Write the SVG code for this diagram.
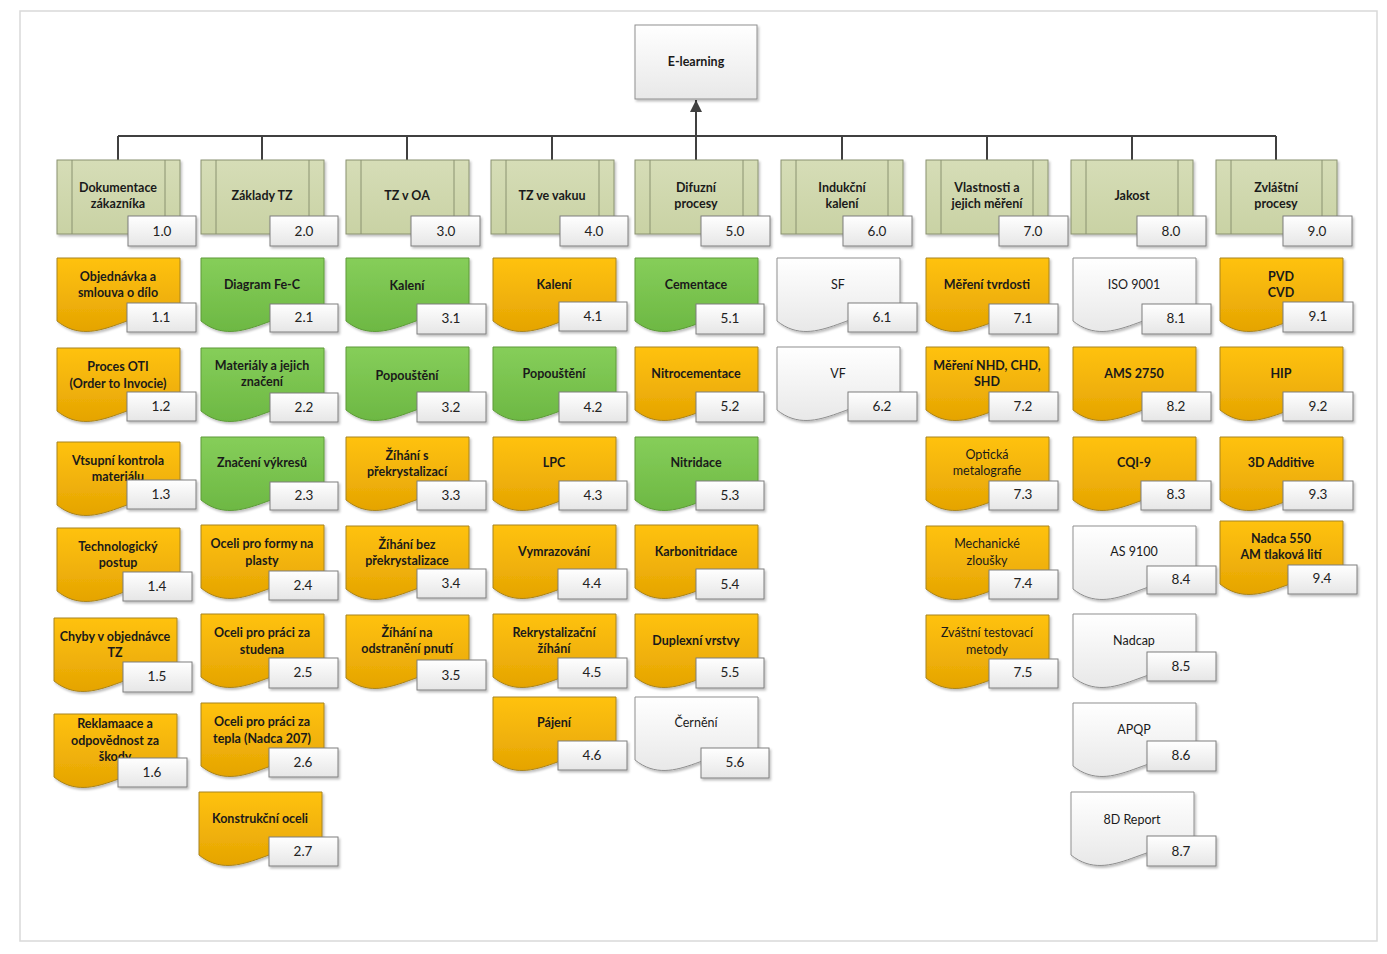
<svg xmlns="http://www.w3.org/2000/svg" xmlns:xlink="http://www.w3.org/1999/xlink" width="1387" height="954" viewBox="0 0 1387 954">
<style>
.or{fill:url(#gOr);stroke:#A8841E;stroke-width:1}
.gr{fill:url(#gGr);stroke:#5E9A3A;stroke-width:1}
.wh{fill:url(#gWh);stroke:#8F8F8F;stroke-width:1}
.hd{fill:url(#gHd);stroke:#8A9270;stroke-width:1}
.hl{stroke:#8A9270;stroke-width:1;fill:none}
.nb{fill:url(#gNb);stroke:#7F7F7F;stroke-width:1;filter:url(#sh)}
.sd{filter:url(#sh)}
text{font-family:Lato,"Open Sans","Liberation Sans",sans-serif;font-size:12.5px;text-anchor:middle;fill:#1A1A1A}
.b{font-weight:bold}
.n{font-size:13.5px;fill:#222}
.cn{stroke:#404040;stroke-width:2;fill:none}
</style>
<defs>
<linearGradient id="gOr" x1="0" y1="0" x2="0" y2="1"><stop offset="0" stop-color="#FFC20F"/><stop offset="1" stop-color="#E5A403"/></linearGradient>
<linearGradient id="gGr" x1="0" y1="0" x2="0" y2="1"><stop offset="0" stop-color="#86CE5A"/><stop offset="1" stop-color="#6DB843"/></linearGradient>
<linearGradient id="gWh" x1="0" y1="0" x2="0" y2="1"><stop offset="0" stop-color="#FFFFFF"/><stop offset="1" stop-color="#E8E8E8"/></linearGradient>
<linearGradient id="gHd" x1="0" y1="0" x2="0" y2="1"><stop offset="0" stop-color="#D6DDB7"/><stop offset="1" stop-color="#C9D2A4"/></linearGradient>
<linearGradient id="gNb" x1="0" y1="0" x2="0" y2="1"><stop offset="0" stop-color="#FFFFFF"/><stop offset="1" stop-color="#E6E6E6"/></linearGradient>
<filter id="sh" x="-10%" y="-10%" width="130%" height="140%"><feDropShadow dx="1.5" dy="2" stdDeviation="1.2" flood-color="#000" flood-opacity="0.25"/></filter>
<path id="doc" d="M0,0 H123 V58 C80,42 40,95 0,63 Z"/>
<marker id="arr" markerWidth="12" markerHeight="12" refX="12" refY="6" orient="auto" markerUnits="userSpaceOnUse" viewBox="0 0 12 12"><path d="M0,0 L12,6 L0,12 Z" fill="#404040"/></marker>
</defs>
<rect x="0" y="0" width="1387" height="954" fill="#FFFFFF"/>
<rect x="20" y="11" width="1357" height="930" fill="#FFFFFF" stroke="#D9D9D9" stroke-width="1.5"/>

<g id="connectors">
<path class="cn" d="M118,136 H1276"/>
<path class="cn" d="M118,136 V160 M262,136 V160 M407,136 V160 M552,136 V160 M842,136 V160 M987,136 V160 M1132,136 V160 M1276,136 V160"/>
<path class="cn" d="M696,160 V100" marker-end="url(#arr)"/>
</g>

<g id="n0">
<rect x="635" y="25" width="122" height="74" fill="url(#gWh)" stroke="#8F8F8F" class="sd"/>
<text class="b" x="696" y="66">E-learning</text>
</g>

<!-- headers -->
<g id="h1"><rect class="hd sd" x="57" y="160" width="123" height="74"/><path class="hl" d="M72,160V234M165,160V234"/><text class="b" x="118" y="192">Dokumentace</text><text class="b" x="118" y="208">zákazníka</text><rect class="nb" x="128" y="216" width="68" height="30"/><text class="n" x="162" y="236">1.0</text></g>
<g id="h2"><rect class="hd sd" x="201" y="160" width="123" height="74"/><path class="hl" d="M216,160V234M309,160V234"/><text class="b" x="262" y="200">Základy TZ</text><rect class="nb" x="270" y="216" width="68" height="30"/><text class="n" x="304" y="236">2.0</text></g>
<g id="h3"><rect class="hd sd" x="346" y="160" width="123" height="74"/><path class="hl" d="M361,160V234M454,160V234"/><text class="b" x="407" y="200">TZ v OA</text><rect class="nb" x="411" y="216" width="69" height="30"/><text class="n" x="446" y="236">3.0</text></g>
<g id="h4"><rect class="hd sd" x="491" y="160" width="123" height="74"/><path class="hl" d="M506,160V234M599,160V234"/><text class="b" x="552" y="200">TZ ve vakuu</text><rect class="nb" x="560" y="216" width="68" height="30"/><text class="n" x="594" y="236">4.0</text></g>
<g id="h5"><rect class="hd sd" x="635" y="160" width="123" height="74"/><path class="hl" d="M650,160V234M743,160V234"/><text class="b" x="696" y="192">Difuzní</text><text class="b" x="696" y="208">procesy</text><rect class="nb" x="701" y="216" width="69" height="30"/><text class="n" x="735" y="236">5.0</text></g>
<g id="h6"><rect class="hd sd" x="781" y="160" width="122" height="74"/><path class="hl" d="M796,160V234M888,160V234"/><text class="b" x="842" y="192">Indukční</text><text class="b" x="842" y="208">kalení</text><rect class="nb" x="843" y="216" width="69" height="30"/><text class="n" x="877" y="236">6.0</text></g>
<g id="h7"><rect class="hd sd" x="926" y="160" width="122" height="74"/><path class="hl" d="M941,160V234M1033,160V234"/><text class="b" x="987" y="192">Vlastnosti a</text><text class="b" x="987" y="208">jejich měření</text><rect class="nb" x="999" y="216" width="69" height="30"/><text class="n" x="1033" y="236">7.0</text></g>
<g id="h8"><rect class="hd sd" x="1071" y="160" width="122" height="74"/><path class="hl" d="M1086,160V234M1178,160V234"/><text class="b" x="1132" y="200">Jakost</text><rect class="nb" x="1137" y="216" width="69" height="30"/><text class="n" x="1171" y="236">8.0</text></g>
<g id="h9"><rect class="hd sd" x="1216" y="160" width="121" height="74"/><path class="hl" d="M1231,160V234M1322,160V234"/><text class="b" x="1276" y="192">Zvláštní</text><text class="b" x="1276" y="208">procesy</text><rect class="nb" x="1283" y="216" width="69" height="30"/><text class="n" x="1317" y="236">9.0</text></g>

<!-- column 1 -->
<g id="n1-1"><use href="#doc" x="57" y="258" class="or sd"/><text class="b" x="118" y="281">Objednávka a</text><text class="b" x="118" y="297">smlouva o dílo</text><rect class="nb" x="127" y="303" width="69" height="29"/><text class="n" x="161" y="322">1.1</text></g>
<g id="n1-2"><use href="#doc" x="57" y="348" class="or sd"/><text class="b" x="118" y="371">Proces OTI</text><text class="b" x="118" y="388">(Order to Invocie)</text><rect class="nb" x="127" y="392" width="69" height="29"/><text class="n" x="161" y="411">1.2</text></g>
<g id="n1-3"><use href="#doc" x="57" y="442" class="or sd"/><text class="b" x="118" y="465">Vtsupní kontrola</text><text class="b" x="118" y="481">materiálu</text><rect class="nb" x="127" y="480" width="69" height="29"/><text class="n" x="161" y="499">1.3</text></g>
<g id="n1-4"><use href="#doc" x="57" y="528" class="or sd"/><text class="b" x="118" y="551">Technologický</text><text class="b" x="118" y="567">postup</text><rect class="nb" x="123" y="572" width="69" height="29"/><text class="n" x="157" y="591">1.4</text></g>
<g id="n1-5"><use href="#doc" x="54" y="618" class="or sd"/><text class="b" x="115" y="641">Chyby v objednávce</text><text class="b" x="115" y="657">TZ</text><rect class="nb" x="123" y="662" width="69" height="30"/><text class="n" x="157" y="681">1.5</text></g>
<g id="n1-6"><use href="#doc" x="54" y="714" class="or sd"/><text class="b" x="115" y="728">Reklamaace a</text><text class="b" x="115" y="745">odpovědnost za</text><text class="b" x="115" y="761">škody</text><rect class="nb" x="118" y="758" width="69" height="29"/><text class="n" x="152" y="777">1.6</text></g>

<!-- column 2 -->
<g id="n2-1"><use href="#doc" x="201" y="258" class="gr sd"/><text class="b" x="262" y="289">Diagram Fe-C</text><rect class="nb" x="270" y="304" width="68" height="28"/><text class="n" x="304" y="322">2.1</text></g>
<g id="n2-2"><use href="#doc" x="201" y="348" class="gr sd"/><text class="b" x="262" y="370">Materiály a jejich</text><text class="b" x="262" y="386">značení</text><rect class="nb" x="270" y="393" width="68" height="29"/><text class="n" x="304" y="412">2.2</text></g>
<g id="n2-3"><use href="#doc" x="201" y="437" class="gr sd"/><text class="b" x="262" y="467">Značení výkresů</text><rect class="nb" x="270" y="482" width="68" height="28"/><text class="n" x="304" y="500">2.3</text></g>
<g id="n2-4"><use href="#doc" x="201" y="525" class="or sd"/><text class="b" x="262" y="548">Oceli pro formy na</text><text class="b" x="262" y="565">plasty</text><rect class="nb" x="269" y="571" width="69" height="29"/><text class="n" x="303" y="590">2.4</text></g>
<g id="n2-5"><use href="#doc" x="201" y="614" class="or sd"/><text class="b" x="262" y="637">Oceli pro práci za</text><text class="b" x="262" y="654">studena</text><rect class="nb" x="269" y="658" width="69" height="30"/><text class="n" x="303" y="677">2.5</text></g>
<g id="n2-6"><use href="#doc" x="201" y="703" class="or sd"/><text class="b" x="262" y="726">Oceli pro práci za</text><text class="b" x="262" y="743">tepla (Nadca 207)</text><rect class="nb" x="269" y="748" width="69" height="29"/><text class="n" x="303" y="767">2.6</text></g>
<g id="n2-7"><use href="#doc" x="199" y="792" class="or sd"/><text class="b" x="260" y="823">Konstrukční oceli</text><rect class="nb" x="269" y="837" width="69" height="29"/><text class="n" x="303" y="856">2.7</text></g>

<!-- column 3 -->
<g id="n3-1"><use href="#doc" x="346" y="258" class="gr sd"/><text class="b" x="407" y="290">Kalení</text><rect class="nb" x="417" y="304" width="69" height="30"/><text class="n" x="451" y="323">3.1</text></g>
<g id="n3-2"><use href="#doc" x="346" y="347" class="gr sd"/><text class="b" x="407" y="380">Popouštění</text><rect class="nb" x="417" y="392" width="69" height="30"/><text class="n" x="451" y="412">3.2</text></g>
<g id="n3-3"><use href="#doc" x="346" y="437" class="or sd"/><text class="b" x="407" y="460">Žíhání s</text><text class="b" x="407" y="476">překrystalizací</text><rect class="nb" x="417" y="481" width="69" height="29"/><text class="n" x="451" y="500">3.3</text></g>
<g id="n3-4"><use href="#doc" x="346" y="526" class="or sd"/><text class="b" x="407" y="549">Žíhání bez</text><text class="b" x="407" y="565">překrystalizace</text><rect class="nb" x="417" y="569" width="69" height="29"/><text class="n" x="451" y="588">3.4</text></g>
<g id="n3-5"><use href="#doc" x="346" y="615" class="or sd"/><text class="b" x="407" y="637">Žíhání na</text><text class="b" x="407" y="653">odstranění pnutí</text><rect class="nb" x="417" y="660" width="69" height="30"/><text class="n" x="451" y="680">3.5</text></g>

<!-- column 4 -->
<g id="n4-1"><use href="#doc" x="493" y="258" class="or sd"/><text class="b" x="554" y="289">Kalení</text><rect class="nb" x="559" y="302" width="68" height="29"/><text class="n" x="593" y="321">4.1</text></g>
<g id="n4-2"><use href="#doc" x="493" y="347" class="gr sd"/><text class="b" x="554" y="378">Popouštění</text><rect class="nb" x="559" y="392" width="68" height="30"/><text class="n" x="593" y="412">4.2</text></g>
<g id="n4-3"><use href="#doc" x="493" y="437" class="or sd"/><text class="b" x="554" y="467">LPC</text><rect class="nb" x="559" y="481" width="68" height="29"/><text class="n" x="593" y="500">4.3</text></g>
<g id="n4-4"><use href="#doc" x="493" y="525" class="or sd"/><text class="b" x="554" y="556">Vymrazování</text><rect class="nb" x="558" y="569" width="69" height="30"/><text class="n" x="592" y="588">4.4</text></g>
<g id="n4-5"><use href="#doc" x="493" y="614" class="or sd"/><text class="b" x="554" y="637">Rekrystalizační</text><text class="b" x="554" y="653">žíhání</text><rect class="nb" x="558" y="658" width="69" height="30"/><text class="n" x="592" y="677">4.5</text></g>
<g id="n4-6"><use href="#doc" x="493" y="697" class="or sd"/><text class="b" x="554" y="727">Pájení</text><rect class="nb" x="558" y="741" width="69" height="29"/><text class="n" x="592" y="760">4.6</text></g>

<!-- column 5 -->
<g id="n5-1"><use href="#doc" x="635" y="258" class="gr sd"/><text class="b" x="696" y="289">Cementace</text><rect class="nb" x="696" y="304" width="68" height="30"/><text class="n" x="730" y="323">5.1</text></g>
<g id="n5-2"><use href="#doc" x="635" y="347" class="or sd"/><text class="b" x="696" y="378">Nitrocementace</text><rect class="nb" x="696" y="392" width="68" height="30"/><text class="n" x="730" y="411">5.2</text></g>
<g id="n5-3"><use href="#doc" x="635" y="437" class="gr sd"/><text class="b" x="696" y="467">Nitridace</text><rect class="nb" x="696" y="481" width="68" height="29"/><text class="n" x="730" y="500">5.3</text></g>
<g id="n5-4"><use href="#doc" x="635" y="525" class="or sd"/><text class="b" x="696" y="556">Karbonitridace</text><rect class="nb" x="696" y="569" width="68" height="30"/><text class="n" x="730" y="589">5.4</text></g>
<g id="n5-5"><use href="#doc" x="635" y="614" class="or sd"/><text class="b" x="696" y="645">Duplexní vrstvy</text><rect class="nb" x="696" y="658" width="68" height="30"/><text class="n" x="730" y="677">5.5</text></g>
<g id="n5-6"><use href="#doc" x="635" y="697" class="wh sd"/><text x="696" y="727">Černění</text><rect class="nb" x="701" y="748" width="68" height="30"/><text class="n" x="735" y="767">5.6</text></g>

<!-- column 6 -->
<g id="n6-1"><use href="#doc" x="777" y="258" class="wh sd"/><text x="838" y="289">SF</text><rect class="nb" x="848" y="303" width="69" height="29"/><text class="n" x="882" y="322">6.1</text></g>
<g id="n6-2"><use href="#doc" x="777" y="347" class="wh sd"/><text x="838" y="378">VF</text><rect class="nb" x="848" y="392" width="69" height="29"/><text class="n" x="882" y="411">6.2</text></g>

<!-- column 7 -->
<g id="n7-1"><use href="#doc" x="926" y="258" class="or sd"/><text class="b" x="987" y="289">Měření tvrdosti</text><rect class="nb" x="989" y="304" width="69" height="30"/><text class="n" x="1023" y="323">7.1</text></g>
<g id="n7-2"><use href="#doc" x="926" y="347" class="or sd"/><text class="b" x="987" y="370">Měření NHD, CHD,</text><text class="b" x="987" y="386">SHD</text><rect class="nb" x="989" y="392" width="69" height="29"/><text class="n" x="1023" y="411">7.2</text></g>
<g id="n7-3"><use href="#doc" x="926" y="437" class="or sd"/><text x="987" y="459">Optická</text><text x="987" y="475">metalografie</text><rect class="nb" x="989" y="481" width="69" height="29"/><text class="n" x="1023" y="499">7.3</text></g>
<g id="n7-4"><use href="#doc" x="926" y="526" class="or sd"/><text x="987" y="548">Mechanické</text><text x="987" y="565">zloušky</text><rect class="nb" x="989" y="570" width="69" height="29"/><text class="n" x="1023" y="588">7.4</text></g>
<g id="n7-5"><use href="#doc" x="926" y="615" class="or sd"/><text x="987" y="637">Zváštní testovací</text><text x="987" y="654">metody</text><rect class="nb" x="989" y="659" width="69" height="29"/><text class="n" x="1023" y="677">7.5</text></g>

<!-- column 8 -->
<g id="n8-1"><use href="#doc" x="1073" y="258" class="wh sd"/><text x="1134" y="289">ISO 9001</text><rect class="nb" x="1142" y="304" width="69" height="30"/><text class="n" x="1176" y="323">8.1</text></g>
<g id="n8-2"><use href="#doc" x="1073" y="347" class="or sd"/><text class="b" x="1134" y="378">AMS 2750</text><rect class="nb" x="1142" y="392" width="69" height="29"/><text class="n" x="1176" y="411">8.2</text></g>
<g id="n8-3"><use href="#doc" x="1073" y="437" class="or sd"/><text class="b" x="1134" y="467">CQI-9</text><rect class="nb" x="1141" y="481" width="70" height="29"/><text class="n" x="1176" y="499">8.3</text></g>
<g id="n8-4"><use href="#doc" x="1073" y="526" class="wh sd"/><text x="1134" y="556">AS 9100</text><rect class="nb" x="1147" y="566" width="69" height="28"/><text class="n" x="1181" y="584">8.4</text></g>
<g id="n8-5"><use href="#doc" x="1073" y="614" class="wh sd"/><text x="1134" y="645">Nadcap</text><rect class="nb" x="1147" y="652" width="69" height="29"/><text class="n" x="1181" y="671">8.5</text></g>
<g id="n8-6"><use href="#doc" x="1073" y="703" class="wh sd"/><text x="1134" y="734">APQP</text><rect class="nb" x="1147" y="741" width="69" height="30"/><text class="n" x="1181" y="760">8.6</text></g>
<g id="n8-7"><use href="#doc" x="1071" y="792" class="wh sd"/><text x="1132" y="824">8D Report</text><rect class="nb" x="1147" y="836" width="69" height="30"/><text class="n" x="1181" y="856">8.7</text></g>

<!-- column 9 -->
<g id="n9-1"><use href="#doc" x="1220" y="258" class="or sd"/><text class="b" x="1281" y="281">PVD</text><text class="b" x="1281" y="297">CVD</text><rect class="nb" x="1283" y="302" width="70" height="30"/><text class="n" x="1318" y="321">9.1</text></g>
<g id="n9-2"><use href="#doc" x="1220" y="347" class="or sd"/><text class="b" x="1281" y="378">HIP</text><rect class="nb" x="1283" y="392" width="70" height="29"/><text class="n" x="1318" y="411">9.2</text></g>
<g id="n9-3"><use href="#doc" x="1220" y="437" class="or sd"/><text class="b" x="1281" y="467">3D Additive</text><rect class="nb" x="1283" y="481" width="70" height="29"/><text class="n" x="1318" y="499">9.3</text></g>
<g id="n9-4"><use href="#doc" x="1220" y="521" class="or sd"/><text class="b" x="1281" y="543">Nadca 550</text><text class="b" x="1281" y="559">AM tlaková lití</text><rect class="nb" x="1288" y="565" width="69" height="29"/><text class="n" x="1322" y="583">9.4</text></g>
</svg>
